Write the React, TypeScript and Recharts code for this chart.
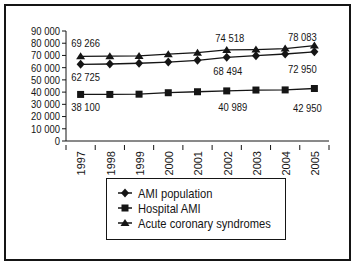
import { LineChart, Line, XAxis, YAxis, Legend, LabelList } from 'recharts';

// values
const years = ['1997', '1998', '1999', '2000', '2001', '2002', '2003', '2004', '2005'];
const amiPopulation = [62725, 63000, 63600, 64600, 66000, 68494, 69800, 71200, 72950];
const hospitalAmi = [38100, 38100, 38300, 39500, 40300, 40989, 41700, 41800, 42950];
const acuteCoronary = [69266, 69400, 69600, 71000, 72300, 74518, 74800, 75600, 78083];
const yTicks = [0, 10000, 20000, 30000, 40000, 50000, 60000, 70000, 80000, 90000];
const labelledIndexes = [0, 5, 8];
const seriesOrder = ['ami', 'hospital', 'acs'];

const data = years.map((year, i) => ({
  year,
  ami: amiPopulation[i],
  hospital: hospitalAmi[i],
  acs: acuteCoronary[i],
}));

const FONT = "'Liberation Sans', Arial, sans-serif";
const INK = '#151515';
const STEP = 263 / 9;
const SQUEEZE = 0.86; // the original uses a narrow typeface

const fmt = (n: number) => String(n).replace(/\B(?=(\d{3})+(?!\d))/g, ' ');

// label offsets (dx, dy from the point) for the three labelled years
const labelOffsets: Record<string, [number, number][]> = {
  acs: [[5, -9], [3, -8], [-12, -5]],
  ami: [[5, 17], [1, 18], [-12, 21]],
  hospital: [[5, 17], [6, 20.5], [-7, 23]],
};

const NarrowText = ({ x, y, anchor = 'start', size = 11, dy, children }: any) => (
  <text
    transform={`translate(${x} ${y}) scale(${SQUEEZE} 1)`}
    textAnchor={anchor}
    dy={dy}
    fontSize={size}
    fontFamily={FONT}
    fill={INK}
  >
    {children}
  </text>
);

const Marker = ({ kind, cx, cy }: { kind: string; cx: number; cy: number }) => {
  if (kind === 'ami') {
    return <polygon points={`${cx},${cy - 4.5} ${cx + 4},${cy} ${cx},${cy + 4.5} ${cx - 4},${cy}`} fill={INK} />;
  }
  if (kind === 'hospital') {
    return <rect x={cx - 3.5} y={cy - 3.5} width={7} height={7} fill={INK} />;
  }
  return <polygon points={`${cx},${cy - 4} ${cx + 4.5},${cy + 3} ${cx - 4.5},${cy + 3}`} fill={INK} />;
};

const makeDot = (kind: string) => (props: any) => {
  const { cx, cy, index } = props;
  if (cx == null || cy == null) return <g key={index} />;
  return <Marker key={index} kind={kind} cx={cx} cy={cy} />;
};

const makeLabel = (kind: string) => (props: any) => {
  const { x, y, value, index } = props;
  const pos = labelledIndexes.indexOf(index);
  if (pos < 0) return null;
  const [dx, dy] = labelOffsets[kind][pos];
  return (
    <NarrowText x={x + dx} y={y + dy} anchor="middle">
      {fmt(value)}
    </NarrowText>
  );
};

const ValueTick = (props: any) => {
  const { x, y, payload } = props;
  return (
    <NarrowText x={x} y={y} anchor="end" dy="0.35em">
      {fmt(payload.value)}
    </NarrowText>
  );
};

const YearTick = (props: any) => {
  const { x, y, payload, index } = props;
  const top = y - 4;
  const last = index === years.length - 1;
  return (
    <g>
      <line x1={x - STEP / 2} y1={top} x2={x - STEP / 2} y2={top + 5} stroke={INK} />
      {last && <line x1={x + STEP / 2} y1={top} x2={x + STEP / 2} y2={top + 5} stroke={INK} />}
      <text
        x={x + 1}
        y={top + 6}
        transform={`rotate(-90 ${x + 1} ${top + 6})`}
        textAnchor="end"
        dy="0.35em"
        fontSize={11}
        fontFamily={FONT}
        fill={INK}
      >
        {payload.value}
      </text>
    </g>
  );
};

const LegendBox = ({ payload }: any) => {
  const items = seriesOrder
    .map((key) => (payload || []).find((p: any) => p.dataKey === key))
    .filter(Boolean);
  return (
    <div style={{ width: 178, height: 60, border: `1px solid ${INK}`, background: '#fff' }}>
      <svg width={178} height={60} style={{ display: 'block' }}>
        {items.map((entry: any, i: number) => {
          const cy = 14 + i * 15;
          return (
            <g key={entry.value}>
              <line x1={11} y1={cy} x2={25} y2={cy} stroke={INK} strokeWidth={1.5} />
              <Marker kind={entry.dataKey} cx={18} cy={cy} />
              <NarrowText x={31} y={cy} dy="0.35em" size={13}>
                {entry.value}
              </NarrowText>
            </g>
          );
        })}
      </svg>
    </div>
  );
};

export default function App() {
  return (
    <div style={{ position: 'absolute', left: 0, top: 0, width: 354, height: 266, background: '#fff' }}>
      <div
        style={{
          position: 'absolute',
          left: 4,
          top: 4,
          width: 343,
          height: 253,
          border: `2px solid ${INK}`,
        }}
      />
      <div style={{ position: 'absolute', left: 0, top: 0 }}>
        <LineChart width={354} height={266} data={data} margin={{ top: 31, right: 25, left: 8, bottom: 92 }}>
          <XAxis
            dataKey="year"
            padding={{ left: STEP / 2, right: STEP / 2 }}
            tickLine={false}
            tick={<YearTick />}
            interval={0}
            height={33}
            axisLine={{ stroke: INK }}
          />
          <XAxis xAxisId="top" orientation="top" dataKey="year" tick={false} tickLine={false} height={0} axisLine={{ stroke: INK }} />
          <YAxis
            domain={[0, 90000]}
            ticks={yTicks}
            interval={0}
            width={58}
            tickSize={4}
            tickMargin={2}
            axisLine={{ stroke: INK }}
            tickLine={{ stroke: INK }}
            tick={<ValueTick />}
          />
          <YAxis yAxisId="right" orientation="right" tick={false} tickLine={false} width={0} axisLine={{ stroke: INK }} />
          <Legend
            layout="vertical"
            verticalAlign="middle"
            align="center"
            wrapperStyle={{ left: 106, top: 178, width: 180, height: 62 }}
            content={<LegendBox />}
          />
          <Line
            dataKey="ami"
            name="AMI population"
            stroke={INK}
            strokeWidth={1.3}
            dot={makeDot('ami')}
            isAnimationActive={false}
          >
            <LabelList dataKey="ami" content={makeLabel('ami')} />
          </Line>
          <Line
            dataKey="hospital"
            name="Hospital AMI"
            stroke={INK}
            strokeWidth={1.3}
            dot={makeDot('hospital')}
            isAnimationActive={false}
          >
            <LabelList dataKey="hospital" content={makeLabel('hospital')} />
          </Line>
          <Line
            dataKey="acs"
            name="Acute coronary syndromes"
            stroke={INK}
            strokeWidth={1.3}
            dot={makeDot('acs')}
            isAnimationActive={false}
          >
            <LabelList dataKey="acs" content={makeLabel('acs')} />
          </Line>
        </LineChart>
      </div>
    </div>
  );
}
